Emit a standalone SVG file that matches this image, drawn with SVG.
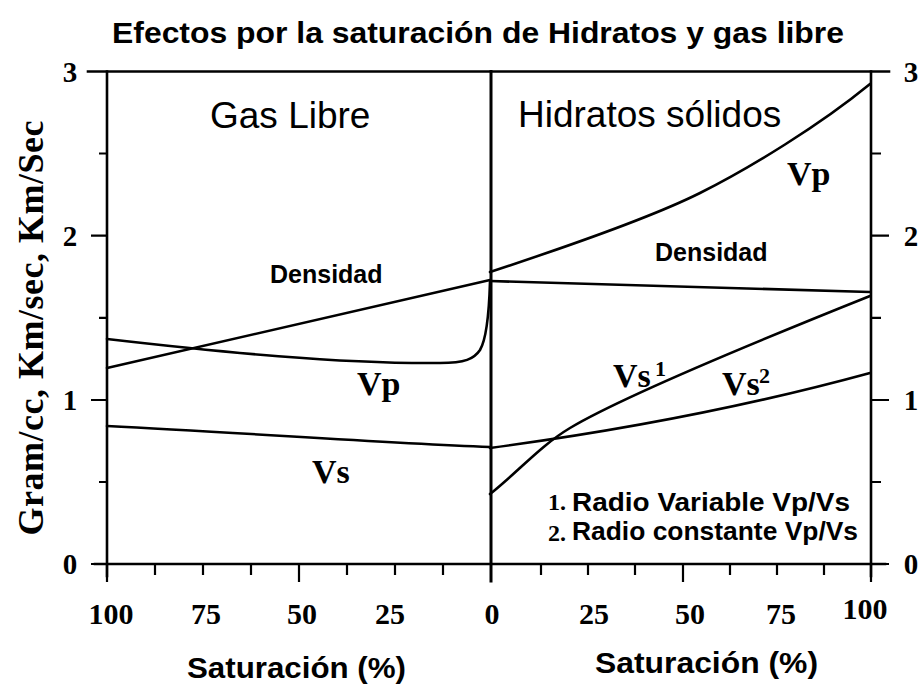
<svg xmlns="http://www.w3.org/2000/svg" width="922" height="686" viewBox="0 0 922 686">
<style>
.ax{stroke:#000;stroke-width:2.6;fill:none;stroke-linecap:square}
.tk{stroke:#000;stroke-width:2.2;fill:none}
.cv{stroke:#000;stroke-width:2.6;fill:none;stroke-linecap:round;stroke-linejoin:round}
.sans{font-family:"Liberation Sans",Arial,sans-serif;fill:#000}
.b{font-weight:bold}
.serif{font-family:"Liberation Serif","Times New Roman",serif;font-weight:bold;fill:#000}
.num{font-size:30px;text-anchor:middle}
.ynum{font-size:29px;text-anchor:middle}
.lbl{font-size:34px}
.sup{font-size:22px}
</style>
<rect width="922" height="686" fill="#fff"/>
<g id="title"><text class="sans b" x="112" y="43" font-size="30" textLength="732" lengthAdjust="spacingAndGlyphs">Efectos por la saturación de Hidratos y gas libre</text></g>
<g id="frame">
<path class="ax" d="M88,71.5 H889"/>
<path class="ax" d="M95,564 H885"/>
<path class="ax" d="M107,71.5 V576"/>
<path class="ax" d="M871,71.5 V576"/>
<path class="ax" d="M491,71.5 V581" style="stroke-width:3"/>
<path class="tk" d="M91,235.6 H107 M91,400 H107 M91,564 H107 M99,153.5 H107 M99,317.8 H107 M99,482 H107"/>
<path class="tk" d="M871,235.6 H889 M871,400 H889 M871,564 H889 M871,153.5 H881 M871,317.8 H881 M871,482 H881"/>
<path class="tk" d="M107,564 V582 M155,564 V575 M203,564 V575 M251,564 V575 M299,564 V582 M347,564 V575 M395,564 V575 M443,564 V575 M541,564 V575 M588,564 V575 M635,564 V575 M683,564 V582 M730,564 V575 M777,564 V575 M824,564 V575 M871,564 V582"/>
</g>
<g id="y-axis-labels">
<text class="serif ynum" x="70" y="82">3</text>
<text class="serif ynum" x="70" y="246">2</text>
<text class="serif ynum" x="70" y="410">1</text>
<text class="serif ynum" x="70" y="574">0</text>
<text class="serif ynum" x="911" y="82">3</text>
<text class="serif ynum" x="911" y="246">2</text>
<text class="serif ynum" x="911" y="410">1</text>
<text class="serif ynum" x="911" y="574">0</text>
<text class="serif" font-size="36" text-anchor="middle" textLength="415" lengthAdjust="spacing" transform="translate(43,328) rotate(-90)">Gram/cc, Km/sec, Km/Sec</text>
</g>
<g id="x-axis-labels">
<text class="serif num" x="111" y="624">100</text>
<text class="serif num" x="206" y="624">75</text>
<text class="serif num" x="302" y="624">50</text>
<text class="serif num" x="390" y="624">25</text>
<text class="serif num" x="492" y="624">0</text>
<text class="serif num" x="594" y="624">25</text>
<text class="serif num" x="690" y="624">50</text>
<text class="serif num" x="781" y="624">75</text>
<text class="serif num" x="865" y="619">100</text>
<text class="sans b" x="187" y="678" font-size="30" textLength="219" lengthAdjust="spacingAndGlyphs">Saturación (%)</text>
<text class="sans b" x="595" y="673" font-size="30" textLength="223" lengthAdjust="spacingAndGlyphs">Saturación (%)</text>
</g>
<g id="region-labels">
<text class="sans" x="210" y="128" font-size="37">Gas Libre</text>
<text class="sans" x="518" y="127" font-size="37">Hidratos sólidos</text>
</g>
<g id="connectors">
<path id="densidad-gas" class="cv" d="M107,368 L490,280"/>
<path id="vp-gas" class="cv" d="M107,339 C220,352 340,364 440,363 C465,363 474,359 480,350 C486,340 489,315 490,282"/>
<path id="vs-gas" class="cv" d="M107,426 C250,433 380,443 490,447"/>
<path id="vp-hid" class="cv" d="M490,272 C560,249 650,218 700,193 C750,168 820,125 870,84"/>
<path id="densidad-hid" class="cv" d="M490,281 C620,285 750,289 870,292"/>
<path id="vs1-hid" class="cv" d="M490,494 C520,470 540,446 570,428 C620,398 760,340 870,296"/>
<path id="vs2-hid" class="cv" d="M490,448 C580,436 720,414 870,373"/>
</g>
<g id="curve-labels">
<text class="sans b" x="270" y="283" font-size="25">Densidad</text>
<text class="sans b" x="655" y="261" font-size="25">Densidad</text>
<text class="serif lbl" x="357" y="395">Vp</text>
<text class="serif lbl" x="787" y="185">Vp</text>
<text class="serif lbl" x="312" y="483">Vs</text>
<text class="serif lbl" x="613" y="387">Vs</text><text class="serif sup" x="655" y="376">1</text>
<text class="serif lbl" x="722" y="395">Vs</text><text class="serif sup" x="759" y="383">2</text>
</g>
<g id="legend">
<text class="serif" x="548" y="510" font-size="24">1.</text>
<text class="sans b" x="572" y="511" font-size="25" textLength="278" lengthAdjust="spacingAndGlyphs">Radio Variable Vp/Vs</text>
<text class="serif" x="548" y="541" font-size="24">2.</text>
<text class="sans b" x="572" y="540" font-size="25" textLength="286" lengthAdjust="spacingAndGlyphs">Radio constante Vp/Vs</text>
</g>
</svg>
